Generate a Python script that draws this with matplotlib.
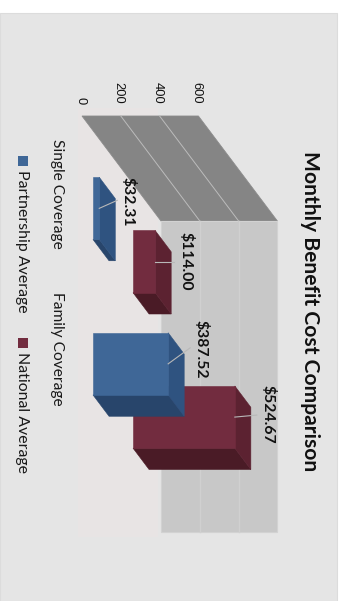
import matplotlib
matplotlib.use("Agg")
import matplotlib.pyplot as plt
from matplotlib.patches import Polygon, Rectangle

# Chart content
title = "Monthly Benefit Cost Comparison"
categories = ["Single Coverage", "Family Coverage"]
series_names = ["Partnership Average", "National Average"]
partnership = [32.31, 387.52]
national = [114.00, 524.67]
value_ticks = [0, 200, 400, 600]

# Oblique projection of the chart, turned a quarter clockwise (canvas pixels)
ORIGIN_X, ORIGIN_Y = 82.0, 116.0
PX_PER_VALUE = 0.194
PX_PER_CATEGORY = 155.5
DEPTH_X, DEPTH_Y = 79.0, 105.0
BAR_SHARE = 0.4


def project(value, category, depth):
    return (ORIGIN_X + value * PX_PER_VALUE + depth * DEPTH_X,
            ORIGIN_Y + category * PX_PER_CATEGORY + depth * DEPTH_Y)


fig = plt.figure(figsize=(3.44, 6.01), dpi=100, facecolor="white")
ax = fig.add_axes([0, 0, 1, 1])
ax.set_xlim(0, 344)
ax.set_ylim(601, 0)
ax.axis("off")

# Slide panel and the faint plot-area tint
ax.add_patch(Rectangle((0, 13), 337, 588, fc="#e5e5e5", ec="#dcdcdc", lw=0.8, zorder=0))
ax.add_patch(Rectangle((78, 108), 80, 429, fc="#e8e4e4", ec="none", zorder=0.1))

# Floor and back wall of the 3-D box
top = value_ticks[-1]
n_cat = len(categories)
ax.add_patch(Polygon([project(0, 0, 0), project(top, 0, 0),
                      project(top, 0, 1), project(0, 0, 1)],
                     fc="#858585", ec="#8c8c8c", lw=0.6, zorder=0.2))
ax.add_patch(Polygon([project(0, 0, 1), project(top, 0, 1),
                      project(top, n_cat, 1), project(0, n_cat, 1)],
                     fc="#c8c8c8", ec="#d2d2d2", lw=0.8, zorder=0.2))

# Gridlines run over both floor and wall, behind the bars
for tick in value_ticks[1:-1]:
    pts = [project(tick, 0, 0), project(tick, 0, 1), project(tick, n_cat, 1)]
    ax.plot([p[0] for p in pts[:2]], [p[1] for p in pts[:2]], color="#bcbcbc", lw=0.7, zorder=0.3)
    ax.plot([p[0] for p in pts[1:]], [p[1] for p in pts[1:]], color="#d0d0d0", lw=1.0, zorder=0.3)

# Value axis labels
for tick in value_ticks:
    x, _ = project(tick, 0, 0)
    ax.text(x - 2, 104, str(tick), rotation=270, ha="center", va="bottom",
            family="Liberation Sans", fontsize=9.3, color="#111111")


def draw_bar(value, category, depth0, depth1, colors):
    c0 = category + 0.5 - BAR_SHARE / 2
    c1 = category + 0.5 + BAR_SHARE / 2
    front, cap, side = colors
    ax.add_patch(Polygon([project(0, c1, depth0), project(value, c1, depth0),
                          project(value, c1, depth1), project(0, c1, depth1)],
                         fc=side, ec=side, lw=0.4, zorder=1))
    ax.add_patch(Polygon([project(value, c0, depth0), project(value, c0, depth1),
                          project(value, c1, depth1), project(value, c1, depth0)],
                         fc=cap, ec=cap, lw=0.4, zorder=1))
    ax.add_patch(Polygon([project(0, c0, depth0), project(value, c0, depth0),
                          project(value, c1, depth0), project(0, c1, depth0)],
                         fc=front, ec=front, lw=0.4, zorder=1))


BLUE = ("#3f6797", "#2f5380", "#28456b")
MAROON = ("#722c3f", "#5c2231", "#4a1b26")
BLUE_DEPTH = (0.139, 0.342)
MAROON_DEPTH = (0.646, 0.849)

# Rear series first so the front row covers it
for i, value in enumerate(national):
    draw_bar(value, i, *MAROON_DEPTH, MAROON)
for i, value in enumerate(partnership):
    draw_bar(value, i, *BLUE_DEPTH, BLUE)

# Data labels with leader lines: (series, category, depths, leader offset, text offset)
label_layout = [
    (partnership, 0, BLUE_DEPTH, (18, -8), (29, -7)),
    (national, 0, MAROON_DEPTH, (19, 0), (31, 0)),
    (partnership, 1, BLUE_DEPTH, (22, -16), (33, -15)),
    (national, 1, MAROON_DEPTH, (22, -2), (33, -2.5)),
]
for values, cat, depths, lead, off in label_layout:
    x, y = project(values[cat], cat + 0.5, depths[0])
    ax.plot([x, x + lead[0]], [y, y + lead[1]], color="#b8b8b8", lw=0.8, zorder=2)
    ax.text(x + off[0], y + off[1], f"${values[cat]:.2f}", rotation=270,
            ha="center", va="center", family="Lato", fontweight="bold",
            fontsize=11.3, color="#111111", zorder=3)

# Category labels
for i, name in enumerate(categories):
    _, y = project(0, i + 0.5, 0)
    ax.text(57, y, name, rotation=270, ha="center", va="center",
            family="Lato", fontsize=11.2, color="#1a1a1a")

# Legend
for name, color, sq_y in zip(series_names, (BLUE[0], MAROON[0]), (156, 338)):
    ax.add_patch(Rectangle((18, sq_y), 10, 10, fc=color, ec="none"))
    ax.text(22, sq_y + 14, name, rotation=270, ha="center", va="top",
            family="Lato", fontsize=11.4, color="#1a1a1a")

ax.text(310, 311.5, title, rotation=270, ha="center", va="center",
        family="Lato", fontweight="bold", fontsize=15.1, color="#111111")

fig.savefig("out.png", dpi=100, facecolor="white")
